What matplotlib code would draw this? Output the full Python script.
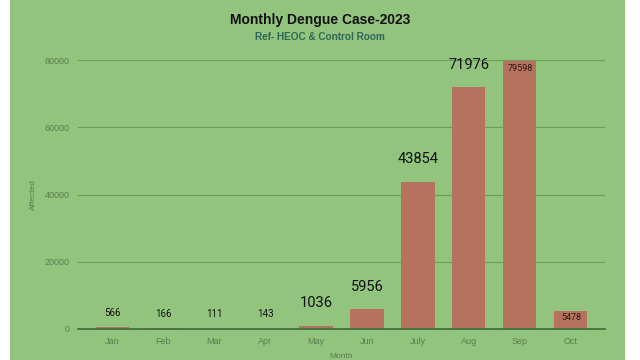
import matplotlib.pyplot as plt
from matplotlib.patches import Rectangle

# Data
months = ["Jan", "Feb", "Mar", "Apr", "May", "Jun", "July", "Aug", "Sep", "Oct"]
cases = [566, 166, 111, 143, 1036, 5956, 43854, 71976, 79598, 5478]
label_sizes = [7, 7, 7, 7, 10.5, 10.5, 10.5, 10.5, 6.5, 6.5]
yticks = [0, 20000, 40000, 60000, 80000]

bg = "#93c47d"
bar_color = "#b5735f"

plt.rcParams["font.family"] = ["Liberation Sans", "DejaVu Sans"]

fig = plt.figure(figsize=(6.4, 3.6), dpi=100, facecolor="white")
# green panel with thin white strips left and right
fig.patches.append(Rectangle((10 / 640, 0), 615 / 640, 1, transform=fig.transFigure,
                             facecolor=bg, edgecolor="none", zorder=-10))

ax = fig.add_axes([78 / 640, 1 - 329 / 360, 527 / 640, 269 / 360])
ax.set_facecolor(bg)

x = range(len(months))
bars = ax.bar(x, cases, width=0.65, color=bar_color, zorder=3)

# value labels: small ones above, big ones further above, Sep/Oct inside the bar
for i, v in enumerate(cases):
    if months[i] in ("Sep", "Oct"):
        ax.text(i, v - 800, str(v), ha="center", va="top", fontsize=label_sizes[i],
                color="#2a1a14", family=["Roboto", "DejaVu Sans"], zorder=4)
    elif label_sizes[i] > 8:
        ax.text(i, v + 4500, str(v), ha="center", va="bottom", fontsize=label_sizes[i],
                color="#111111", family=["Roboto", "DejaVu Sans"], zorder=4)
    else:
        ax.text(i, v + 2800, str(v), ha="center", va="bottom", fontsize=label_sizes[i],
                color="#111111", family=["Roboto", "DejaVu Sans"], zorder=4)

ax.set_xlim(-0.67, 9.67)
ax.set_ylim(0, 80000)
ax.set_yticks(yticks)
ax.set_yticklabels([str(t) for t in yticks])
ax.set_xticks(list(x))
ax.set_xticklabels(months)
ax.tick_params(axis="both", length=0, labelsize=6.5, colors="#5a7d52", pad=6)
ax.grid(axis="y", color="#6a9f5a", linewidth=0.8, zorder=1)
ax.set_axisbelow(True)
for s in ["top", "right", "left"]:
    ax.spines[s].set_visible(False)
ax.spines["bottom"].set_color("#3d6b37")
ax.spines["bottom"].set_linewidth(1.2)
ax.spines["bottom"].set_zorder(5)

ax.set_ylabel("Affected", fontsize=6, color="#5a7d52")
ax.yaxis.set_label_coords(-0.078, 0.5)
fig.text(341 / 640, 1 - 357 / 360, "Month", ha="center", va="center", fontsize=6,
         color="#5a7d52")

fig.text(0.5, 1 - 20 / 360, "Monthly Dengue Case-2023", ha="center", va="center",
         fontsize=10, fontweight="bold", color="#111111")
fig.text(0.5, 1 - 37 / 360, "Ref- HEOC & Control Room", ha="center", va="center",
         fontsize=7.2, fontweight="bold", color="#2e6658")

fig.savefig("out.png", dpi=100, facecolor=fig.get_facecolor())
